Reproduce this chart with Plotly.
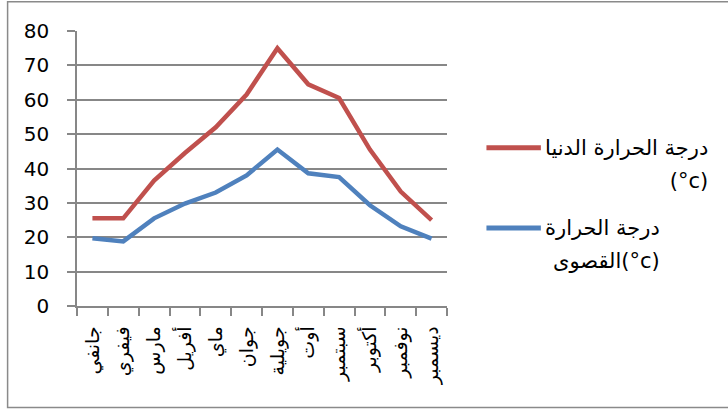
import plotly.graph_objects as go

# Months (Algerian/Maghreb Arabic names)
months = ["جانفي", "فيفري", "مارس", "أفريل", "ماي", "جوان",
          "جويلية", "أوت", "سبتمبر", "أكتوبر", "نوفمبر", "ديسمبر"]

# Temperature series (°c)
temp_min = [25.5, 25.5, 36.5, 44.5, 52, 61.5, 75, 64.5, 60.5, 45.5, 33.3, 25]
temp_max = [19.7, 18.8, 25.5, 29.8, 33, 38, 45.5, 38.6, 37.5, 29.3, 23.2, 19.6]

# Series names, wrapped over two lines for the side legend
name_min = ["درجة الحرارة الدنيا", "(°c)"]
name_max = ["درجة الحرارة", "القصوى(°c)"]

RED = "#C0504D"
BLUE = "#4F81BD"
GRID = "#878787"
LRM = "\u200E"  # keep mixed Arabic/Latin lines in left-to-right order

W, H = 728, 412
PL, PR, PT, PB = 77, 447.5, 30.7, 306  # plot area in pixels


def px(x):
    return (x - PL) / (PR - PL)


def py(y):
    return (PB - y) / (PB - PT)


fig = go.Figure()
fig.add_trace(go.Scatter(x=months, y=temp_min, mode="lines", name=" ".join(name_min),
                         line=dict(color=RED, width=4.5), showlegend=False))
fig.add_trace(go.Scatter(x=months, y=temp_max, mode="lines", name=" ".join(name_max),
                         line=dict(color=BLUE, width=4.5), showlegend=False))

fig.update_layout(
    width=W, height=H, autosize=False,
    margin=dict(l=PL, r=W - PR, t=PT, b=H - PB, autoexpand=False),
    paper_bgcolor="white", plot_bgcolor="white",
    font=dict(family="DejaVu Sans", color="black"),
)

fig.update_xaxes(
    type="category", range=[-0.5, len(months) - 0.5],
    showgrid=False, zeroline=False,
    showline=True, linecolor=GRID, linewidth=1.5,
    ticks="outside", tickson="boundaries", ticklen=8, tickwidth=1.5, tickcolor=GRID,
    ticklabelstandoff=11,
    tickangle=-90, tickfont=dict(family="DejaVu Sans", size=19, color="black"),
)
fig.update_yaxes(
    range=[0, 80], dtick=10, showgrid=True, gridcolor=GRID, gridwidth=1.5,
    zeroline=False, showline=True, linecolor=GRID, linewidth=1.5,
    ticks="outside", ticklen=8, tickwidth=1.5, tickcolor=GRID,
    ticklabelstandoff=14,
    tickfont=dict(family="DejaVu Sans", size=20, color="black"),
)

# Outer chart frame
fig.add_shape(type="rect", xref="paper", yref="paper",
              x0=px(7.5), x1=px(740), y0=py(407.5), y1=py(1.5),
              line=dict(color="#8A8A8A", width=1.5), layer="below")

# Side legend: swatch line plus a right-aligned two-line label
for color, lines, ypix in [(RED, name_min, 147.7), (BLUE, name_max, 228)]:
    fig.add_shape(type="line", xref="paper", yref="paper",
                  x0=px(487), x1=px(541.5), y0=py(ypix), y1=py(ypix),
                  line=dict(color=color, width=5))
    label = "<br>".join(
        "<span style='font-size:21px'>" + LRM + ln + "</span>" for ln in lines)
    fig.add_annotation(text=label, xref="paper", yref="paper",
                       x=px(544), y=py(ypix - 14), xanchor="left", yanchor="top",
                       align="right", showarrow=False,
                       font=dict(family="DejaVu Sans", size=25, color="black"))

fig.write_html("out.html")
